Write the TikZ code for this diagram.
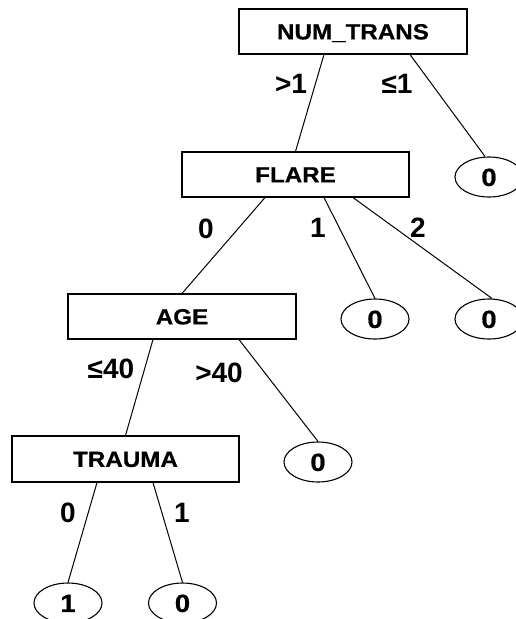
\documentclass[tikz,border=0pt]{standalone}
\usepackage{fontspec}
\setmainfont{Liberation Sans}
\newfontfamily\widesans[FakeStretch=1.1,FakeBold=0.6]{Liberation Sans}
\usetikzlibrary{shapes.geometric}
\begin{document}
\begin{tikzpicture}[x=1pt,y=-1pt,
  every node/.style={inner sep=0pt, text depth=0pt},
  testbox/.style={draw, line width=1.1pt, minimum width=228pt, minimum height=45pt,
    font=\widesans\fontsize{22}{26}\selectfont\bfseries, text height=15.8pt},
  leaf/.style={draw, ellipse, line width=1.1pt, minimum width=68pt, minimum height=40pt,
    font=\widesans\fontsize{25}{29}\selectfont\bfseries, text height=17.9pt},
  cond/.style={font=\fontsize{28}{32}\selectfont\bfseries, text height=20pt},
  branch/.style={line width=1pt},
  ]
\useasboundingbox (0,0) rectangle (516,619);

% decision nodes
\node[testbox] (num)    at (353,31.5)    {NUM\_TRANS};
\node[testbox, minimum width=227pt] (flare) at (295.5,174.5) {FLARE};
\node[testbox] (age)    at (182,316.5)   {AGE};
\node[testbox, minimum width=227pt, minimum height=46pt] (trauma) at (125.5,459) {TRAUMA};

% leaves
\node[leaf] (l1) at (489,177)   {0};
\node[leaf] (l2) at (375,319)   {0};
\node[leaf] (l3) at (489,319)   {0};
\node[leaf] (l4) at (318,462)   {0};
\node[leaf] (l5) at (68,603)    {1};
\node[leaf] (l6) at (182.5,603) {0};

% branches
\draw[branch] ([xshift=-29pt]num.south)    -- (flare.north);
\draw[branch] ([xshift=57pt]num.south)     -- ([xshift=-4pt]l1.north);
\draw[branch] ([xshift=-30.5pt]flare.south) -- (age.north);
\draw[branch] ([xshift=28.5pt]flare.south)  -- (l2.north);
\draw[branch] ([xshift=57.5pt]flare.south)  -- ([xshift=3pt]l3.north);
\draw[branch] ([xshift=-29pt]age.south)    -- (trauma.north);
\draw[branch] ([xshift=57pt]age.south)     -- (l4.north);
\draw[branch] ([xshift=-28.5pt]trauma.south) -- (l5.north);
\draw[branch] ([xshift=27.5pt]trauma.south)  -- (l6.north);

% branch labels
\node[cond] (e1) at (291,83)  {>1};
\node[cond] (e2) at (397,83)  {≤1};
\node[cond] (e3) at (206,228) {0};
\node[cond] (e4) at (318,227) {1};
\node[cond] (e5) at (418,227) {2};
\node[cond] (e6) at (111,368) {≤40};
\node[cond] (e7) at (219,372.5) {>40};
\node[cond] (e8) at (68,512)  {0};
\node[cond] (e9) at (182,512) {1};
\end{tikzpicture}
\end{document}
